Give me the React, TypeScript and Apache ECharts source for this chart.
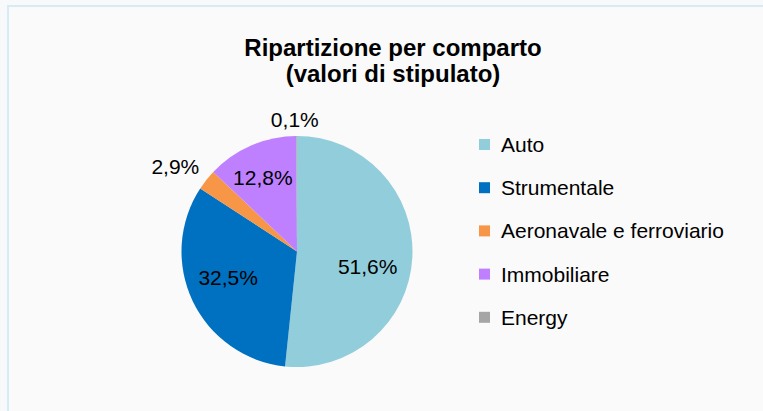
import React, { useEffect, useRef } from "react";
import * as echarts from "echarts";

const categories = ["Auto", "Strumentale", "Aeronavale e ferroviario", "Immobiliare", "Energy"];
const shares = [51.6, 32.5, 2.9, 12.8, 0.1];
const colors = ["#92CDDC", "#0070C0", "#F79646", "#BF80FF", "#A5A5A5"];
const titleLines = ["Ripartizione per comparto", "(valori di stipulato)"];

// label nudges (px) from ECharts' default inside position
const labelShift: [number, number][] = [
  [10, 11.5],
  [-14, -0.5],
  [-74, -47],
  [-10, -18],
  [-2, -71],
];

const FONT = "'Liberation Sans', Arial, Helvetica, sans-serif";

export default function App() {
  const ref = useRef<HTMLDivElement>(null);
  useEffect(() => {
    if (!ref.current) return;
    document.body.style.margin = "0";
    const chart = echarts.init(ref.current, null, { renderer: "svg" });
    chart.setOption({
      animation: false,
      backgroundColor: "#f7f9fa",
      graphic: [
        {
          type: "rect",
          z: -10,
          shape: { x: 8, y: 6, width: 800, height: 450 },
          style: { fill: "#fafafa", stroke: "#d7ebf5", lineWidth: 2 },
          silent: true,
        },
      ],
      title: {
        text: titleLines.join("\n"),
        left: 393,
        textAlign: "center",
        top: 34,
        padding: 0,
        textStyle: {
          fontFamily: FONT,
          fontWeight: "bold",
          fontSize: 24,
          lineHeight: 26,
          color: "#000",
        },
      },
      legend: {
        orient: "vertical",
        left: 479,
        top: 134,
        padding: 0,
        itemWidth: 11,
        itemHeight: 11,
        itemGap: 22.2,
        icon: "rect",
        data: categories,
        textStyle: {
          fontFamily: FONT,
          fontSize: 21,
          lineHeight: 20,
          color: "#000",
          padding: [0, 0, 0, 6],
        },
      },
      series: [
        {
          type: "pie",
          center: [297, 251.5],
          radius: 115.5,
          startAngle: 90,
          clockwise: true,
          avoidLabelOverlap: false,
          minShowLabelAngle: 0,
          label: {
            show: true,
            position: "inside",
            fontFamily: FONT,
            fontSize: 21,
            color: "#000",
            formatter: (p: any) => `${Number(p.value).toFixed(1).replace(".", ",")}%`,
          },
          labelLine: { show: false },
          labelLayout: (params: any) => {
            const s = labelShift[params.dataIndex] || [0, 0];
            return { dx: s[0], dy: s[1] };
          },
          itemStyle: { borderWidth: 0 },
          emphasis: { disabled: true },
          data: categories.map((name, i) => ({
            name,
            value: shares[i],
            itemStyle: { color: colors[i] },
          })),
        },
      ],
    });
    return () => chart.dispose();
  }, []);
  return (
    <div
      ref={ref}
      style={{ position: "fixed", left: 0, top: 0, width: 763, height: 411 }}
    />
  );
}
